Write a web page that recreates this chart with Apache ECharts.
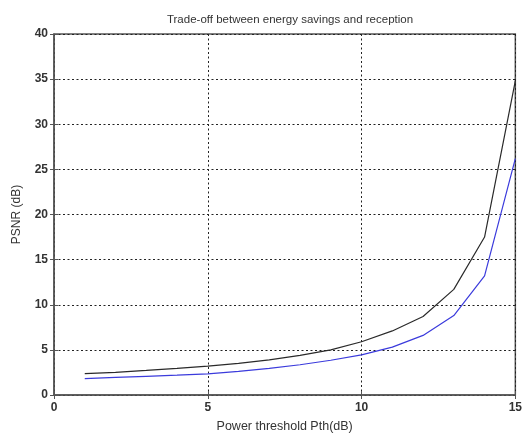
<!DOCTYPE html>
<html><head><meta charset="utf-8">
<script src="https://cdn.jsdelivr.net/npm/echarts@6/dist/echarts.min.js"></script>
<style>html,body{margin:0;padding:0;background:#fff}#c{width:525px;height:438px}</style>
</head><body><div id="c"></div>
<script>
const xValues = [1,2,3,4,5,6,7,8,9,10,11,12,13,14,15];
const blackSeries = [2.37,2.5,2.72,2.95,3.2,3.5,3.9,4.4,5.0,5.9,7.1,8.7,11.7,17.5,34.8];
const blueSeries = [1.82,1.95,2.07,2.2,2.35,2.62,2.95,3.35,3.85,4.45,5.3,6.6,8.8,13.2,26.2];
const titleText = 'Trade-off between energy savings and reception';
const xName = 'Power threshold Pth(dB)';
const yName = 'PSNR (dB)';

const chart = echarts.init(document.getElementById('c'), null, {renderer:'canvas'});
const font = 'Liberation Sans, Arial, sans-serif';
const gridLine = {show:true, lineStyle:{color:'#222', type:[2,2.5], width:1}};
chart.setOption({
  animation:false,
  title:{text:titleText, left:285, top:9, textAlign:'center',
    textStyle:{fontFamily:font, fontSize:11.5, fontWeight:'normal', color:'#333'}},
  grid:{left:54, right:8, top:34, bottom:38, show:true, borderColor:'#555', borderWidth:1.5, containLabel:false},
  xAxis:[{
    type:'value', min:0, max:15, interval:5,
    name:xName, nameLocation:'middle', nameGap:25,
    nameTextStyle:{fontFamily:font, fontSize:12.5, color:'#333'},
    axisLine:{show:true, lineStyle:{color:'#555', width:1.5}},
    axisTick:{show:true, inside:true, length:4, lineStyle:{color:'#555'}},
    axisLabel:{fontFamily:font, fontSize:12, fontWeight:'bold', color:'#333', margin:7},
    splitLine:gridLine
  },{
    type:'value', min:0, max:15, interval:5, position:'top',
    axisLine:{show:false}, axisTick:{show:true, inside:true, length:4, lineStyle:{color:'#555'}},
    axisLabel:{show:false}, splitLine:{show:false}
  }],
  yAxis:[{
    type:'value', min:0, max:40, interval:5,
    name:yName, nameLocation:'middle', nameGap:31, nameRotate:90,
    nameTextStyle:{fontFamily:font, fontSize:12, color:'#333'},
    axisLine:{show:true, lineStyle:{color:'#555', width:1.5}},
    axisTick:{show:true, inside:true, length:4, lineStyle:{color:'#555'}},
    axisLabel:{fontFamily:font, fontSize:12, fontWeight:'bold', color:'#333', margin:6},
    splitLine:gridLine
  },{
    type:'value', min:0, max:40, interval:5, position:'right',
    axisLine:{show:false}, axisTick:{show:true, inside:true, length:4, lineStyle:{color:'#555'}},
    axisLabel:{show:false}, splitLine:{show:false}
  }],
  series:[
    {type:'line', data:xValues.map((x,i)=>[x,blackSeries[i]]), showSymbol:false, lineStyle:{color:'#2a2a2a', width:1.2}, z:3},
    {type:'line', data:xValues.map((x,i)=>[x,blueSeries[i]]), showSymbol:false, lineStyle:{color:'#3b3bdc', width:1.2}, z:3}
  ]
});
</script></body></html>
